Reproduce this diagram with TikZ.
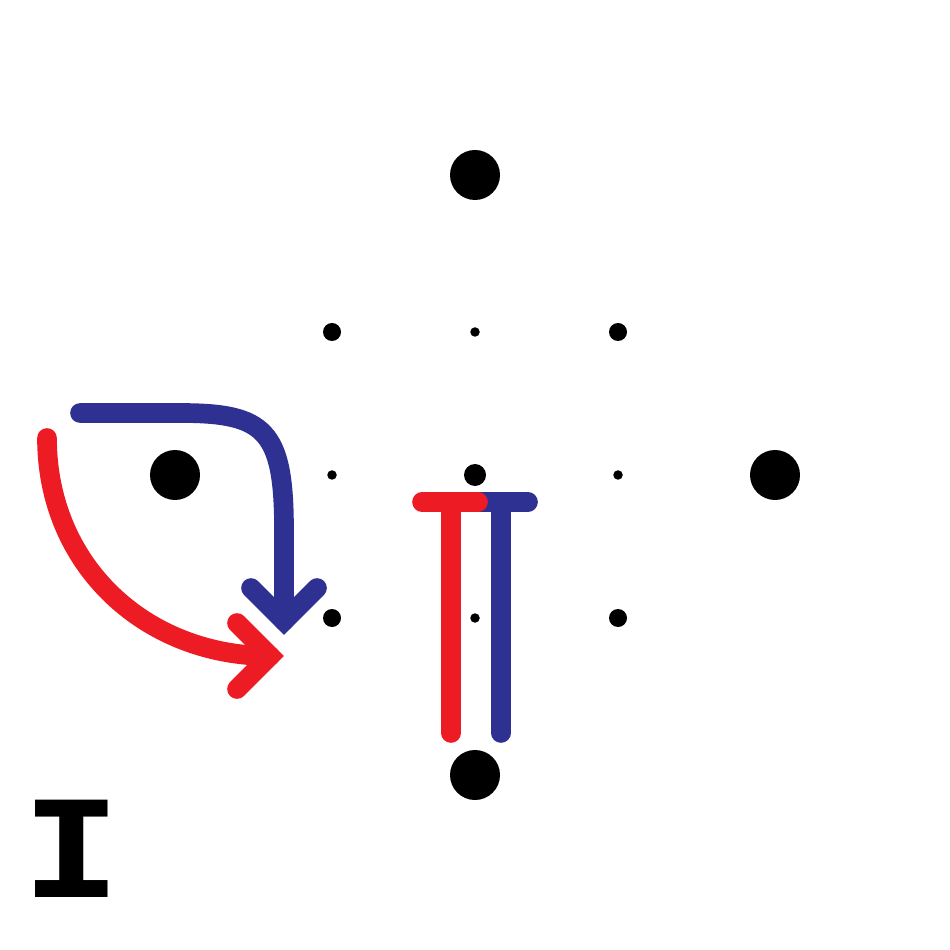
\documentclass[tikz,border=0pt]{standalone}
\usepackage{fontspec}
\newfontfamily\letterfont{DejaVu Sans Mono}
\definecolor{arrowred}{RGB}{237,28,36}
\definecolor{arrowblue}{RGB}{46,49,146}

\begin{document}
\begin{tikzpicture}[x=0.1mm, y=-0.1mm,
    bigdot/.style={circle, fill=black, inner sep=0pt, minimum size=5mm},
    middot/.style={circle, fill=black, inner sep=0pt, minimum size=1.8mm},
    smalldot/.style={circle, fill=black, inner sep=0pt, minimum size=0.95mm},
    band/.style={line width=5.6pt, line cap=round}]
    \useasboundingbox (0,0) rectangle (950,950);

    % Outer dots
    \node[bigdot] (north) at (475,175) {};
    \node[bigdot] (west) at (175,475) {};
    \node[bigdot] (east) at (775,475) {};
    \node[bigdot] (south) at (475,775) {};

    % Inner grid
    \node[middot] (nw) at (332,332) {};
    \node[smalldot] (n) at (475,332) {};
    \node[middot] (ne) at (618,332) {};
    \node[smalldot] (w) at (332,475) {};
    \node[circle, fill=black, inner sep=0pt, minimum size=2.2mm] (c) at (475,475) {};
    \node[smalldot] (e) at (618,475) {};
    \node[middot] (sw) at (332,618) {};
    \node[smalldot] (s) at (475,618) {};
    \node[middot] (se) at (618,618) {};

    % Blue arrow
    \coordinate (bluestart) at (80,413);
    \coordinate (bluetip) at (284,621);
    \draw[band, arrowblue] (bluestart) -- (180,413) .. controls (265,413) and (284,430) .. (284,530) -- (bluetip);
    \draw[band, arrowblue, line join=miter] (bluetip) ++(-33,-33) -- (bluetip) -- ++(33,-33);

    % Red arrow
    \coordinate (redstart) at (47,438);
    \coordinate (redtip) at (270,656);
    \draw[band, arrowred] (redstart) .. controls (47,565) and (145,656) .. (redtip);
    \draw[band, arrowred, line join=miter] (redtip) ++(-33,-33) -- (redtip) -- ++(-33,33);

    % Blue T
    \coordinate (bluetop) at (501,502);
    \coordinate (bluefoot) at (501,733);
    \draw[band, arrowblue] (bluetop) -- (bluefoot);
    \draw[band, arrowblue] (477,502) -- (528,502);

    % Red T
    \coordinate (redtop) at (451,502);
    \coordinate (redfoot) at (451,733);
    \draw[band, arrowred] (redtop) -- (redfoot);
    \draw[band, arrowred] (422,502) -- (478,502);

    % Label
    \node[inner sep=0pt, font=\letterfont\bfseries\fontsize{38}{38}\selectfont] (label) at (72,849) {\scalebox{1.25}[1]{I}};
\end{tikzpicture}
\end{document}
